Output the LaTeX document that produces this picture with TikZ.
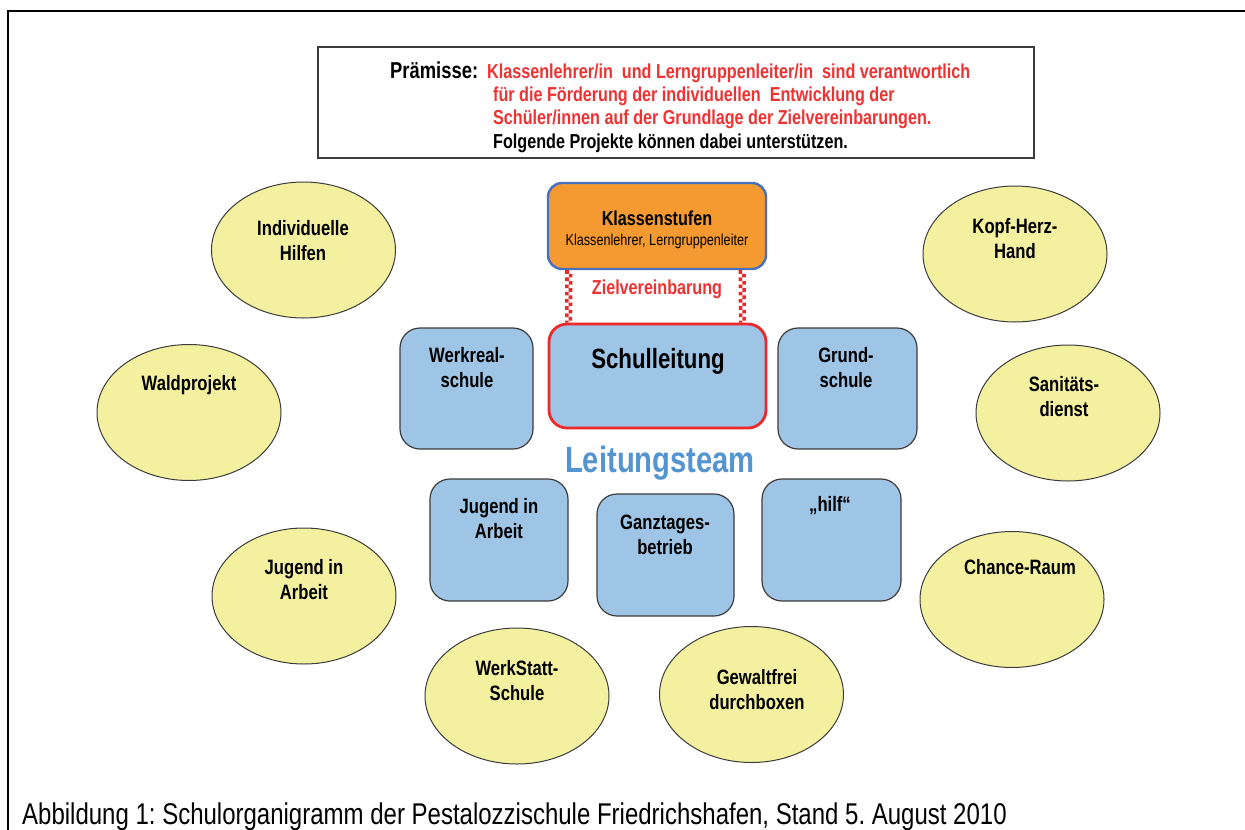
\documentclass[tikz,border=0pt]{standalone}
\usepackage{fontspec}
\setmainfont[FakeStretch=0.8]{Liberation Sans}
\usetikzlibrary{shapes.geometric}
\definecolor{orangef}{RGB}{244,154,48}
\definecolor{ksblue}{RGB}{72,112,190}
\definecolor{lblue}{RGB}{158,196,230}
\definecolor{redc}{RGB}{237,40,40}
\definecolor{redt}{RGB}{238,50,50}
\definecolor{yell}{RGB}{243,240,160}
\definecolor{teamblue}{RGB}{84,148,208}
\definecolor{boxgray}{RGB}{60,60,60}
\tikzset{
  bluebox/.style={draw=boxgray, line width=1.2, fill=lblue, rounded corners=20, inner sep=0},
  ell/.style={ellipse, draw=boxgray, line width=1, fill=yell, minimum width=184, minimum height=136, inner sep=0},
  lbl/.style={font=\bfseries\fontsize{20.8}{25}\selectfont, align=center, inner sep=0},
  ptxt/.style={font=\bfseries\fontsize{20.2}{23}\selectfont, inner sep=0, anchor=base west},
  zz/.style={redc, line width=3.6, dash pattern=on 3.6 off 3.6}
}
\begin{document}
\frenchspacing
\begin{tikzpicture}[x=1pt,y=-1pt]
\useasboundingbox (0,0) rectangle (1245,830);
% outer frame
\draw[line width=2.6] (8,832) -- (8,11) -- (1247,11);
% premise box
\node[draw=boxgray, line width=1.2, minimum width=716, minimum height=111, inner sep=0] (prem) at (676,102.5) {};
\node[ptxt, font=\bfseries\fontsize{23}{23}\selectfont] (p0) at (390,78) {Prämisse:};
\node[ptxt, text=redt] (p1) at (487,78) {Klassenlehrer/in\ \ und Lerngruppenleiter/in\ \ sind verantwortlich};
\node[ptxt, text=redt] (p2) at (493,101) {für die Förderung der individuellen\ \ Entwicklung der};
\node[ptxt, text=redt] (p3) at (493,124) {Schüler/innen auf der Grundlage der Zielvereinbarungen.};
\node[ptxt] (p4) at (493,148) {Folgende Projekte können dabei unterstützen.};
% Klassenstufen
\node[draw=ksblue, line width=2.4, fill=orangef, rounded corners=14, minimum width=218, minimum height=86, inner sep=0] (ks) at (657,226) {};
\node[font=\bfseries\fontsize{20.2}{24}\selectfont, inner sep=0] (kst) at (657,218) {Klassenstufen};
\node[font=\fontsize{15.8}{18}\selectfont, inner sep=0] (kss) at (657,241) {Klassenlehrer, Lerngruppenleiter};
% Schulleitung
\node[draw=redc, line width=2.8, fill=lblue, rounded corners=18, minimum width=217, minimum height=104, inner sep=0] (sl) at (657.5,376) {};
\node[font=\bfseries\fontsize{27.8}{32}\selectfont, inner sep=0] (slt) at (658,361) {Schulleitung};
% zigzag connectors
\draw[zz] ([xshift=20.2]ks.south west) -- ([xshift=19.2]sl.north west);
\draw[zz, dash phase=3.6] ([xshift=23.8]ks.south west) -- ([xshift=22.8]sl.north west);
\draw[zz] ([xshift=-26.8]ks.south east) -- ([xshift=-26.8]sl.north east);
\draw[zz, dash phase=3.6] ([xshift=-23.2]ks.south east) -- ([xshift=-23.2]sl.north east);
\node[font=\bfseries\fontsize{20.2}{24}\selectfont, text=redt, inner sep=0] (ziel) at (657,289) {Zielvereinbarung};
% side boxes
\node[bluebox, minimum width=133, minimum height=121] (wr) at (466.5,388.5) {};
\node[lbl] (wrt) at (467,368) {Werkreal-\\schule};
\node[bluebox, minimum width=139, minimum height=121] (gs) at (847.5,388.5) {};
\node[lbl] (gst) at (846,368) {Grund-\\schule};
% Leitungsteam
\node[font=\bfseries\fontsize{36.5}{40}\selectfont, text=teamblue, inner sep=0] (lt) at (660,463) {Leitungsteam};
% lower boxes
\node[bluebox, minimum width=138, minimum height=122] (jia) at (499,540) {};
\node[lbl] (jiat) at (499,519) {Jugend in\\Arbeit};
\node[bluebox, minimum width=137, minimum height=122] (gt) at (665.5,555) {};
\node[lbl] (gtt) at (665,535) {Ganztages-\\betrieb};
\node[bluebox, minimum width=139, minimum height=122] (hilf) at (831.5,540) {};
\node[lbl] (hilft) at (830,506) {„hilf“};
% ellipses
\node[ell] (e1) at (303.5,250) {};
\node[lbl] (e1t) at (303,241) {Individuelle\\Hilfen};
\node[ell] (e2) at (189,412.5) {};
\node[lbl] (e2t) at (189,385) {Waldprojekt};
\node[ell] (e3) at (304,596) {};
\node[lbl] (e3t) at (304,580) {Jugend in\\Arbeit};
\node[ell] (e4) at (517,696) {};
\node[lbl] (e4t) at (517,681) {WerkStatt-\\Schule};
\node[ell] (e5) at (751.5,694.5) {};
\node[lbl] (e5t) at (757,690) {Gewaltfrei\\durchboxen};
\node[ell] (e6) at (1012,599.5) {};
\node[lbl] (e6t) at (1020,567) {Chance-Raum};
\node[ell] (e7) at (1068,413) {};
\node[lbl] (e7t) at (1064,397) {Sanitäts-\\dienst};
\node[ell] (e8) at (1015,254) {};
\node[lbl] (e8t) at (1015,239) {Kopf-Herz-\\Hand};
% caption
\node[font=\fontsize{30}{32}\selectfont, inner sep=0, anchor=base west] (cap) at (22,824) {Abbildung 1: Schulorganigramm der Pestalozzischule Friedrichshafen, Stand 5. August 2010};
\end{tikzpicture}
\end{document}
